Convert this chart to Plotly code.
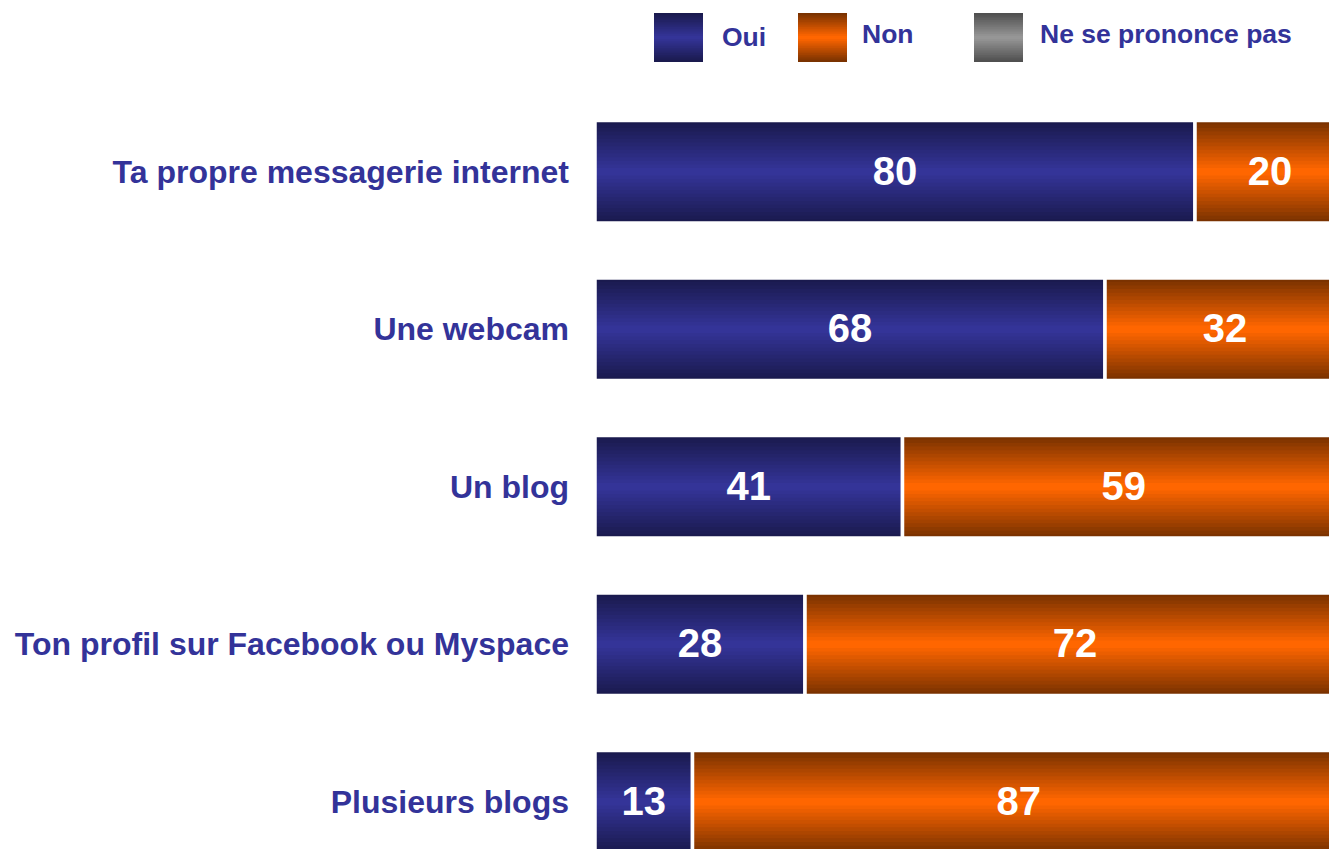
import plotly.graph_objects as go

W, H = 1329, 849

categories = [
    "Ta propre messagerie internet",
    "Une webcam",
    "Un blog",
    "Ton profil sur Facebook ou Myspace",
    "Plusieurs blogs",
]
oui = [80, 68, 41, 28, 13]
non = [20, 32, 59, 72, 87]
nsp = [0, 0, 0, 0, 0]

series_names = ["Oui", "Non", "Ne se prononce pas"]
# (edge colour, centre colour) for the vertical gradients
gradients = {
    "Oui": ((26, 26, 78), (52, 52, 152)),
    "Non": ((122, 50, 0), (255, 102, 0)),
    "Ne se prononce pas": ((80, 80, 80), (150, 150, 150)),
}

FONT = "Liberation Sans, Arial, sans-serif"
LABEL_COLOR = "#333399"
N_STEPS = 14
BAR_W = 0.65


def mix(c1, c2, t):
    return "rgb({},{},{})".format(*[round(a + (b - a) * t) for a, b in zip(c1, c2)])


def px(x):
    return x / W


def py(y):
    return 1 - y / H


ypos = list(range(len(categories)))
fig = go.Figure()

# stacked segments, each drawn as nested bars to fake the vertical gradient
series_vals = [oui, non, nsp]
bases = [0] * len(categories)
for name, vals in zip(series_names, series_vals):
    dark, light = gradients[name]
    for k in range(N_STEPS):
        frac = 1 - k / N_STEPS
        fig.add_trace(go.Bar(
            x=vals, y=ypos, base=list(bases), orientation="h",
            width=BAR_W * frac,
            marker=dict(color=mix(dark, light, k / (N_STEPS - 1)), line=dict(width=0)),
            showlegend=False, hoverinfo="skip",
        ))
    # white outline on top separates the segments
    fig.add_trace(go.Bar(
        x=vals, y=ypos, base=list(bases), orientation="h", width=BAR_W,
        marker=dict(color="rgba(0,0,0,0)", line=dict(color="white", width=3.5)),
        showlegend=False, hoverinfo="skip",
    ))
    mids = [b + v / 2 for b, v in zip(bases, vals)]
    fig.add_trace(go.Scatter(
        x=[m for m, v in zip(mids, vals) if v > 0],
        y=[p + 0.02 for p, v in zip(ypos, vals) if v > 0],
        text=[str(v) for v in vals if v > 0],
        mode="text",
        textfont=dict(family=FONT, size=40, color="white", weight="bold"),
        showlegend=False, hoverinfo="skip",
    ))
    bases = [b + v for b, v in zip(bases, vals)]

# hand-made legend with big gradient swatches
legend_boxes = [(654, 720, 37), (798, 860, 34), (974, 1038, 34)]
shapes = []
annotations = []
for name, (bx, tx, ty) in zip(series_names, legend_boxes):
    dark, light = gradients[name]
    top, bot = 13, 62
    mid = (top + bot) / 2
    half = (bot - top) / 2
    for k in range(N_STEPS):
        frac = 1 - k / N_STEPS
        shapes.append(dict(
            type="rect", xref="paper", yref="paper",
            x0=px(bx), x1=px(bx + 49),
            y0=py(mid + half * frac), y1=py(mid - half * frac),
            fillcolor=mix(dark, light, k / (N_STEPS - 1)), line=dict(width=0),
        ))
    annotations.append(dict(
        text=name, xref="paper", yref="paper", x=px(tx), y=py(ty),
        xanchor="left", yanchor="middle", showarrow=False,
        font=dict(family=FONT, size=26.5, color=LABEL_COLOR, weight="bold"),
    ))

fig.update_layout(
    width=W, height=H,
    barmode="overlay",
    margin=dict(l=0, r=0, t=0, b=0),
    paper_bgcolor="white",
    plot_bgcolor="white",
    shapes=shapes,
    annotations=annotations,
    xaxis=dict(
        domain=[px(595), 1], range=[0, 734 / 7.5],
        showgrid=False, zeroline=False, showticklabels=False, showline=False,
    ),
    yaxis=dict(
        domain=[0, py(93)], range=[4.3, -0.5],
        tickvals=ypos, ticktext=categories, ticks="",
        ticklabelstandoff=25,
        tickfont=dict(family=FONT, size=32, color=LABEL_COLOR, weight="bold"),
        showgrid=False, zeroline=False, showline=False,
    ),
)

# drop the default page margin so the figure sits at the window corner
fig.write_html(
    "out.html",
    config={"displayModeBar": False},
    post_script="document.body.style.margin='0';"
                "document.documentElement.style.overflow='hidden';",
)
